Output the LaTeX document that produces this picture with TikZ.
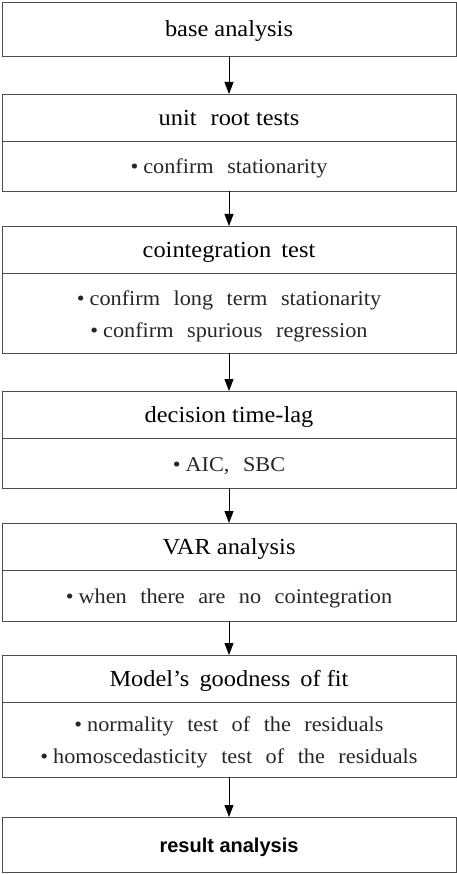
\documentclass[tikz,border=0pt]{standalone}
\usepackage{fontspec}
\setmainfont{Liberation Serif}[FakeStretch=1.06]
\newfontfamily\resultfont{Liberation Sans}
\usetikzlibrary{positioning,arrows.meta}
\newcommand{\itm}{\textbullet\hspace{5pt}}
\newcommand{\bodyfont}{\fontsize{21}{32}\selectfont\spaceskip=13.5pt\relax}

\begin{document}
\begin{tikzpicture}[->, >={Triangle[width=9pt,length=12pt]}, line width=0.9pt,
  main node/.style={draw=black!70, minimum width=454pt, inner sep=0pt, outer sep=0pt,
    text height=21pt, text depth=5pt, font=\fontsize{23}{26}\selectfont},
  head node/.style={main node, minimum height=47pt},
  body node/.style={main node, align=center, text=black!85, font=\bodyfont},
  two lines/.style={text height=53pt}]
\useasboundingbox (0,0) rectangle (457pt,-874pt);

\node[main node, minimum height=54pt] (b) at (229pt,-29pt) {base analysis};
\node[head node, below=38pt of b]               (u)  {unit\hspace{8pt} root tests};
\node[body node, below=0pt of u, minimum height=50pt] (ub) {\itm confirm stationarity};
\node[head node, below=35pt of ub]              (c)  {cointegration\hspace{4pt} test};
\node[body node, two lines, below=0pt of c, minimum height=80pt] (cb)
  {\itm confirm long term stationarity\\ \itm confirm spurious regression};
\node[head node, below=38pt of cb]              (l)  {decision time-lag};
\node[body node, below=0pt of l, minimum height=50pt] (lb) {\itm AIC, SBC};
\node[head node, below=35pt of lb]              (v)  {VAR analysis};
\node[body node, below=0pt of v, minimum height=51pt] (vb) {\itm when there are no cointegration};
\node[head node, below=34pt of vb]              (m)  {Model’s\hspace{4pt} goodness\hspace{4pt} of fit};
\node[body node, two lines, below=0pt of m, minimum height=75pt] (mb)
  {\itm normality test of the residuals\\ \itm homoscedasticity test of the residuals};
\node[main node, below=40pt of mb, minimum height=55pt,
  font=\resultfont\bfseries\fontsize{20}{24}\selectfont] (r) {result analysis};

\path
(b)  edge (u)
(ub) edge (c)
(cb) edge (l)
(lb) edge (v)
(vb) edge (m)
(mb) edge (r);
\end{tikzpicture}
\end{document}
